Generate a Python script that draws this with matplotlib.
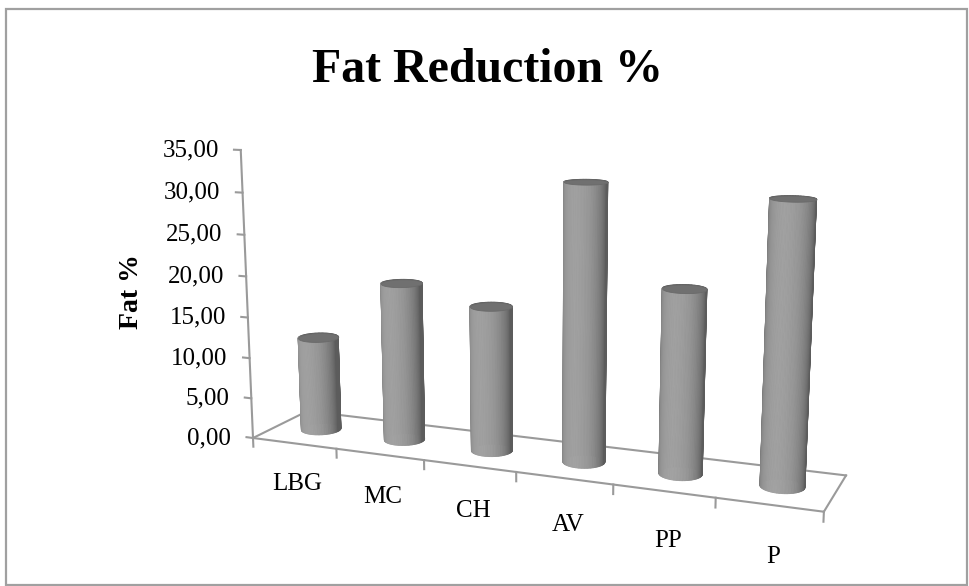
import numpy as np
import matplotlib
matplotlib.use("Agg")
import matplotlib.pyplot as plt
from mpl_toolkits.mplot3d import proj3d
from mpl_toolkits.mplot3d.art3d import Poly3DCollection
from matplotlib.patches import Rectangle

# ---- data ----
categories = ["LBG", "MC", "CH", "AV", "PP", "P"]
fat_reduction = [11.7, 19.3, 17.4, 32.4, 21.2, 31.7]
value_ticks = [0, 5, 10, 15, 20, 25, 30, 35]
value_tick_labels = ["0,00", "5,00", "10,00", "15,00", "20,00", "25,00", "30,00", "35,00"]
title = "Fat Reduction %"
ylabel = "Fat %"

SERIF = ["Liberation Serif", "DejaVu Serif"]
W, H = 969, 586

fig = plt.figure(figsize=(W / 100, H / 100), dpi=100)
fig.patches.append(Rectangle((6 / W, 1 - 585 / H), 961 / W, 576 / H,
                             transform=fig.transFigure, fill=False,
                             edgecolor="#a0a0a0", linewidth=1.6))

side, cx_px, cy_px = 600.0, 545.0, H - 290.0   # square axes, display pixels

ax = fig.add_axes([(cx_px - side / 2) / W, (cy_px - side / 2) / H, side / W, side / H],
                  projection="3d", computed_zorder=False)
AZ, EL = -68, 12
ax.set_proj_type("persp", focal_length=0.4)
ax.view_init(elev=EL, azim=AZ)
XL, YL, ZL = (-0.5, 5.5), (0.0, 1.0), (0.0, 35.0)
ax.set_xlim(*XL); ax.set_ylim(*YL); ax.set_zlim(*ZL)
BOX = (6.55, 1.2, 3.3)
ax.set_box_aspect(BOX, zoom=1.0)
ax.set_axis_off()
ax.patch.set_alpha(0)

x0, x1 = XL
y0, y1 = YL

line_kw = dict(color="#9a9a9a", linewidth=1.5, clip_on=False)
# floor outline
ax.plot([x0, x1], [y1, y1], [0, 0], zorder=1, **line_kw)
ax.plot([x0, x0], [y0, y1], [0, 0], zorder=1, **line_kw)
ax.plot([x1, x1], [y0, y1], [0, 0], zorder=1, **line_kw)
ax.plot([x0, x1], [y0, y0], [0, 0], zorder=50, **line_kw)
for k in range(len(categories) + 1):
    xt = x0 + k
    ax.plot([xt, xt], [y0, y0], [0, -1.1], zorder=50, **line_kw)
# value axis
ax.plot([x0, x0], [y0, y0], [0, ZL[1]], zorder=50, **line_kw)
for t in value_ticks:
    ax.plot([x0, x0 - 0.08], [y0, y0], [t, t], zorder=50, **line_kw)

# cylinders
sx = BOX[0] / (XL[1] - XL[0])
sy = BOX[1] / (YL[1] - YL[0])
R = 0.21
N = 90
th = np.linspace(0, 2 * np.pi, N + 1)
light = np.deg2rad(AZ) - np.deg2rad(28)
for i, v in enumerate(fat_reduction):
    xs = i + R * np.cos(th)
    ys = 0.5 + R * sx / sy * np.sin(th)
    polys, cols = [], []
    for j in range(N):
        polys.append([(xs[j], ys[j], 0), (xs[j + 1], ys[j + 1], 0),
                      (xs[j + 1], ys[j + 1], v), (xs[j], ys[j], v)])
        tm = 0.5 * (th[j] + th[j + 1])
        d = np.cos(tm - light)
        b = 0.36 + 0.27 * max(d, 0) ** 0.8
        cols.append((b, b, b, 1))
    body = Poly3DCollection(polys, facecolors=cols, edgecolors=cols, linewidths=0.6)
    body.set_zorder(10 + i)
    body.set_clip_on(False)
    ax.add_collection3d(body)
    top = Poly3DCollection([list(zip(xs, ys, np.full_like(xs, v)))],
                           facecolors="#707070", edgecolors="#6a6a6a", linewidths=0.6)
    top.set_zorder(20 + i)
    top.set_clip_on(False)
    ax.add_collection3d(top)


def to_px(x, y, z):
    xs_, ys_, _ = proj3d.proj_transform(np.atleast_1d(x), np.atleast_1d(y),
                                        np.atleast_1d(z), ax.get_proj())
    return ax.transData.transform(np.column_stack([xs_, ys_]))[0]


# place the box so the value axis spans the reference's pixels
T_FL = np.array([253.0, H - 438.0])
T_TOP_Y = H - 150.0
for _ in range(2):
    fig.canvas.draw()
    pf = to_px(x0, y0, 0)
    pt = to_px(x0, y0, ZL[1])
    s = (T_TOP_Y - T_FL[1]) / (pt[1] - pf[1])
    c = np.array([cx_px, cy_px])
    cx_px, cy_px = T_FL - s * (pf - c)
    side *= s
    ax.set_position([(cx_px - side / 2) / W, (cy_px - side / 2) / H, side / W, side / H])
fig.canvas.draw()

# value tick labels (2-D text at projected positions)
for t, lab in zip(value_ticks, value_tick_labels):
    p = to_px(x0, y0, t)
    fig.text((p[0] - 22) / W, p[1] / H, lab, ha="right", va="center",
             fontsize=18, family=SERIF)
# category labels: below the middle of each category's stretch of the front edge,
# dropped in proportion to the local (perspective) tick spacing
for i, cat in enumerate(categories):
    pa = to_px(i - 0.5, y0, 0)
    pb = to_px(i + 0.5, y0, 0)
    mid = 0.5 * (pa + pb)
    sp = np.hypot(*(pb - pa))
    fig.text((mid[0] + 0.03 * sp) / W, (mid[1] - 0.48 * sp) / H, cat,
             ha="center", va="center", fontsize=18, family=SERIF)

fig.text(0.503, 1 - 70 / H, title, ha="center", va="center", fontsize=34.5,
         fontweight="bold", family=SERIF)
fig.text(132 / W, 1 - 292 / H, ylabel, ha="center", va="center", fontsize=20,
         fontweight="bold", family=SERIF, rotation=90)

fig.savefig("out.png", dpi=100)
